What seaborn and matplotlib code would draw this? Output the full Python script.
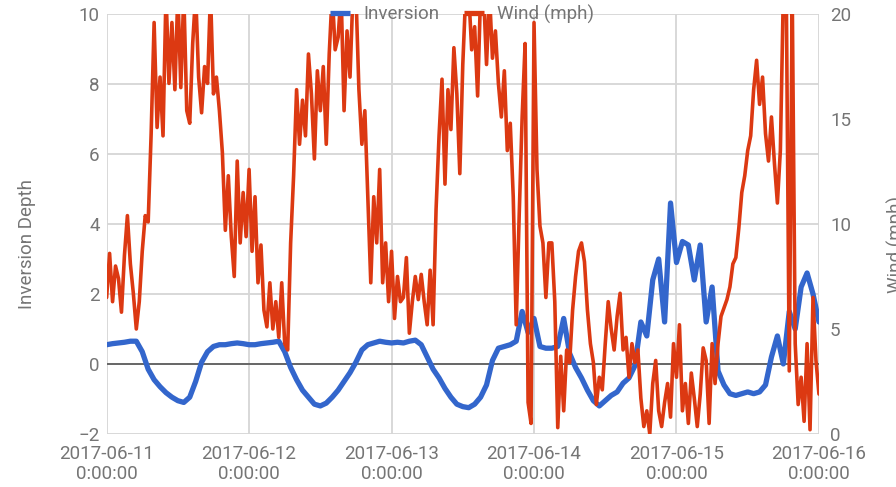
import matplotlib
matplotlib.use("Agg")
import matplotlib.pyplot as plt
import matplotlib.ticker as mticker
import matplotlib.dates as mdates
from matplotlib.lines import Line2D
import seaborn as sns
import pandas as pd

# inversion depth, hourly from 2017-06-11 0:00
inversion = [
    0.55, 0.58, 0.6, 0.62, 0.65, 0.65, 0.35, -0.15, -0.45, -0.65, -0.82, -0.95,
    -1.05, -1.1, -0.95, -0.5, 0.05, 0.35, 0.5, 0.55, 0.55, 0.58, 0.6, 0.58,
    0.55, 0.55, 0.58, 0.6, 0.62, 0.65, 0.35, -0.1, -0.45, -0.75, -0.95, -1.15,
    -1.2, -1.12, -0.95, -0.75, -0.5, -0.25, 0.05, 0.4, 0.55, 0.6, 0.65, 0.62,
    0.6, 0.62, 0.6, 0.65, 0.68, 0.55, 0.2, -0.15, -0.4, -0.7, -0.95, -1.15,
    -1.22, -1.25, -1.15, -0.95, -0.6, 0.1, 0.45, 0.5, 0.55, 0.65, 1.5, 0.9,
    1.3, 0.5, 0.45, 0.45, 0.5, 1.3, 0.3, -0.1, -0.4, -0.75, -1.05, -1.2,
    -1.05, -0.9, -0.8, -0.55, -0.4, -0.05, 1.2, 0.8, 2.4, 3.0, 1.2, 4.6,
    2.9, 3.5, 3.4, 2.4, 3.4, 1.2, 2.2, -0.2, -0.6, -0.85, -0.9, -0.85,
    -0.8, -0.85, -0.8, -0.6, 0.2, 0.8, 0.0, 1.5, 1.0, 2.2, 2.6, 2.0, 1.2,
]

# wind speed in mph, every 30 minutes
wind = [
    6.5, 8.6, 6.3, 8.0, 7.4, 5.8, 8.5, 10.4, 8.1, 6.7, 5.0, 6.3,
    8.7, 10.4, 10.1, 14.3, 19.6, 14.6, 17.0, 14.2, 21.0, 16.7, 19.6, 16.4,
    21.0, 16.5, 21.0, 15.4, 14.8, 18.6, 21.0, 17.0, 15.3, 17.5, 16.7, 21.0,
    16.2, 17.0, 15.4, 13.4, 9.7, 12.3, 9.4, 7.5, 13.0, 9.1, 11.5, 9.4,
    12.6, 8.7, 11.3, 7.2, 9.0, 5.9, 5.1, 7.2, 5.0, 6.3, 4.6, 7.2,
    4.3, 4.0, 9.1, 12.3, 16.4, 13.8, 15.9, 14.2, 18.1, 16.2, 13.1, 17.3,
    15.4, 17.5, 13.8, 18.1, 21.0, 18.3, 18.9, 21.0, 15.4, 19.2, 17.0, 21.0,
    21.0, 16.4, 13.8, 15.4, 11.3, 7.2, 11.3, 9.1, 12.6, 7.2, 9.1, 6.3,
    8.7, 5.5, 7.5, 6.3, 6.5, 8.4, 4.8, 6.3, 7.5, 6.4, 7.6, 6.3,
    5.2, 7.8, 5.2, 10.7, 14.2, 16.9, 11.9, 16.4, 14.5, 18.4, 16.2, 12.4,
    17.6, 21.0, 21.0, 18.3, 19.4, 16.1, 21.0, 21.0, 17.6, 21.0, 17.9, 19.2,
    16.7, 15.1, 17.3, 13.5, 14.8, 11.3, 5.2, 10.4, 15.1, 18.6, 1.5, 0.5,
    19.6, 12.6, 9.9, 9.1, 6.5, 9.1, 9.1, 6.3, 0.3, 3.7, 1.1, 4.0,
    3.4, 5.9, 7.5, 8.7, 9.1, 8.2, 5.9, 4.3, 3.4, 1.4, 2.7, 2.1,
    4.3, 6.3, 5.0, 4.0, 5.6, 6.7, 4.0, 4.6, 2.7, 4.3, 3.4, 4.0,
    1.7, 0.35, 1.1, 0.0, 2.4, 3.5, 1.1, 0.35, 1.5, 2.4, 0.8, 4.3,
    2.7, 5.2, 1.1, 2.4, 0.5, 2.9, 1.7, 0.35, 1.9, 4.1, 3.5, 0.5,
    4.3, 2.4, 4.3, 5.6, 6.0, 6.4, 7.0, 8.1, 8.4, 9.8, 11.5, 12.3,
    13.5, 14.2, 16.4, 17.8, 15.7, 17.0, 14.3, 13.0, 15.1, 12.9, 11.0, 13.5,
    21.0, 21.0, 3.0, 21.0, 4.3, 1.4, 2.7, 0.6, 4.3, 0.2, 6.5, 3.5,
    1.9,
]

inv_ticks = [-2, 0, 2, 4, 6, 8, 10]
wind_ticks = [0, 5, 10, 15, 20]

inv_df = pd.DataFrame({"time": pd.date_range("2017-06-11", periods=len(inversion), freq="h"),
                       "depth": inversion})
wind_df = pd.DataFrame({"time": pd.date_range("2017-06-11", periods=len(wind), freq="30min"),
                        "wind": wind})
day_ticks = pd.date_range("2017-06-11", "2017-06-16", freq="D")

sns.set_style("white")
plt.rcParams["font.family"] = ["Roboto", "DejaVu Sans"]
text_grey = "#757575"
blue = "#3366cc"
red = "#dc3912"
fs = 13.5

fig, ax = plt.subplots(figsize=(8.96, 4.87), dpi=100)
fig.subplots_adjust(left=0.119, right=0.914, bottom=0.109, top=0.971)
ax2 = ax.twinx()

sns.lineplot(data=inv_df, x="time", y="depth", ax=ax, color=blue, linewidth=3.8)
sns.lineplot(data=wind_df, x="time", y="wind", ax=ax2, color=red, linewidth=2.6)

ax.set_xlim(day_ticks[0], day_ticks[-1])
ax.set_ylim(-2, 10)
ax2.set_ylim(0, 20)
ax.set_yticks(inv_ticks)
ax2.set_yticks(wind_ticks)
ax.set_xticks(day_ticks)

def day_label(v, pos):
    d = mdates.num2date(v)
    return d.strftime("%Y-%m-%d") + "\n" + f"{d.hour}:{d:%M:%S}"

ax.xaxis.set_major_formatter(mticker.FuncFormatter(day_label))

ax.grid(True, color="#d6d6d6", linewidth=1.3)
ax.axhline(0, color="#666666", linewidth=1.4, zorder=1.5)
for a in (ax, ax2):
    for s in a.spines.values():
        s.set_visible(False)
    a.tick_params(length=0, labelsize=fs, labelcolor=text_grey)
ax.tick_params(axis="x", pad=8)
ax.tick_params(axis="y", pad=5)
ax2.tick_params(axis="y", pad=8)
ax2.grid(False)
for lab in ax.get_xticklabels():
    lab.set_linespacing(1.15)

ax.set_xlabel("")
ax.set_ylabel("Inversion Depth", fontsize=fs, color=text_grey)
ax.yaxis.set_label_coords(-0.099, 0.452)
ax2.set_ylabel("Wind (mph)", fontsize=fs, color=text_grey)
ax2.yaxis.set_label_coords(1.095, 0.452)

handles = [Line2D([], [], color=blue, linewidth=3.8, solid_capstyle="butt"),
           Line2D([], [], color=red, linewidth=3.8, solid_capstyle="butt")]
leg = ax2.legend(handles, ["Inversion", "Wind (mph)"], loc="center", bbox_to_anchor=(0.499, 1.0),
                 ncol=2, frameon=False, fontsize=fs, handlelength=1.07, handletextpad=0.69,
                 columnspacing=1.3, labelcolor=text_grey, borderpad=0, borderaxespad=0)
leg.set_zorder(10)

fig.savefig("out.png", dpi=100)
